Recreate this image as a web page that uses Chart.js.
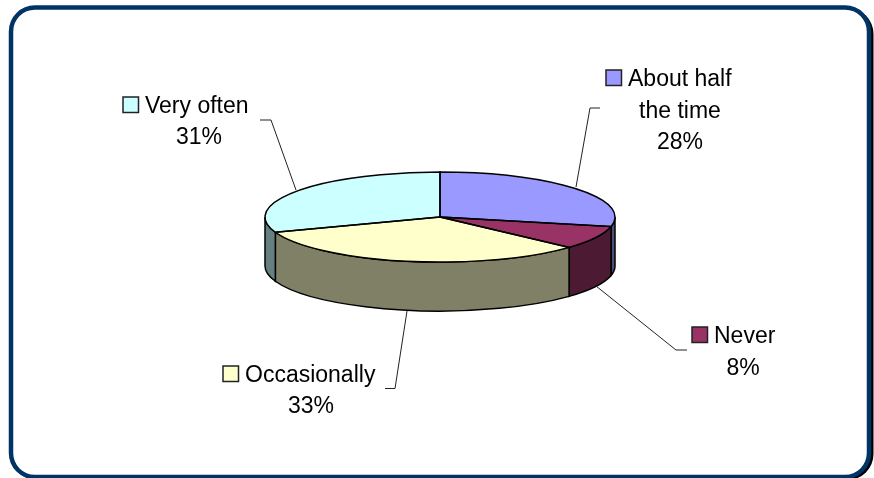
<!DOCTYPE html>
<html>
<head>
<meta charset="utf-8">
<style>
  html, body { margin: 0; background: #fff; }
  canvas { display: block; }
</style>
<script src="https://cdn.jsdelivr.net/npm/chart.js@4"></script>
</head>
<body>
<canvas id="pie" width="874" height="478"></canvas>
<script>
// data, slice sizes, printed labels as shown
const categories = ["About half the time", "Never", "Occasionally", "Very often"];
const shares = [28.4, 8.4, 32.7, 30.5];
const shareLabels = ["28%", "8%", "33%", "31%"];

// colours
const topColors = ["#9999FF", "#993366", "#FFFFCC", "#CCFFFF"];
const sideColors = ["#4D4D80", "#4D1A33", "#808066", "#668080"];

// label layout, same order as categories
const labelLines = [["About half", "the time"], ["Never"], ["Occasionally"], ["Very often"]];
const keyBoxes = [[606, 70], [692, 327], [223, 366], [123, 97]];
const centerX = [680, 743, 311, 199];
const baselines = [86, 343, 381.5, 112.5];
const firstTextX = [628, 714, 245, 145];
const lineGap = 31.7;
const leaders = [
  [[600, 108], [590, 108], [576, 187]],
  [[596, 286], [676, 350], [687, 350]],
  [[407, 311], [395, 388.5], [385, 388.5]],
  [[260, 120], [271, 120], [296, 190]]
];

// where the tilted disc sits on the page
const discX = 440, discY = 217, discRY = 45, discDepth = 49;

function frame(ctx) {
  ctx.save();
  ctx.fillStyle = "#000";
  ctx.beginPath();
  ctx.roundRect(11, 8, 862.5, 472, 26);
  ctx.fill();
  ctx.lineWidth = 4.5;
  ctx.strokeStyle = "#003366";
  ctx.fillStyle = "#fff";
  ctx.beginPath();
  ctx.roundRect(11, 7.5, 858, 469.5, 24);
  ctx.fill();
  ctx.stroke();
  ctx.restore();
}

const tiltedPie = {
  id: "tiltedPie",
  beforeDraw(chart) {
    frame(chart.ctx);
  },
  beforeDatasetsDraw(chart) {
    const ctx = chart.ctx;
    const arcs = chart.getDatasetMeta(0).data;
    const rx = arcs[0].outerRadius;

    // outer wall, only the front half shows
    arcs.forEach((arc, i) => {
      const from = Math.max(arc.startAngle, 0);
      const to = Math.min(arc.endAngle, Math.PI);
      if (to <= from) return;
      ctx.beginPath();
      ctx.ellipse(discX, discY, rx, discRY, 0, from, to);
      ctx.ellipse(discX, discY + discDepth, rx, discRY, 0, to, from, true);
      ctx.closePath();
      ctx.fillStyle = sideColors[i];
      ctx.fill();
      ctx.strokeStyle = "#000";
      ctx.lineWidth = 1.5;
      ctx.stroke();
    });

    ctx.save();
    ctx.translate(discX, discY);
    ctx.scale(1, discRY / rx);
    ctx.translate(-arcs[0].x, -arcs[0].y);
  },
  afterDatasetsDraw(chart) {
    const ctx = chart.ctx;
    ctx.restore();

    const arcs = chart.getDatasetMeta(0).data;
    const rx = arcs[0].outerRadius;

    // outlines on top, stroked without the squash so the width stays even
    arcs.forEach((arc) => {
      ctx.beginPath();
      ctx.moveTo(discX, discY);
      ctx.ellipse(discX, discY, rx, discRY, 0, arc.startAngle, arc.endAngle);
      ctx.closePath();
      ctx.strokeStyle = "#000";
      ctx.lineWidth = 1.5;
      ctx.stroke();
    });

    // leader lines
    ctx.strokeStyle = "#222";
    ctx.lineWidth = 1;
    leaders.forEach((pts) => {
      ctx.beginPath();
      pts.forEach((p, k) => k ? ctx.lineTo(p[0], p[1]) : ctx.moveTo(p[0], p[1]));
      ctx.stroke();
    });

    // labels
    ctx.font = '23px "Liberation Sans"';
    ctx.fillStyle = "#000";
    ctx.textBaseline = "alphabetic";
    categories.forEach((name, i) => {
      const lines = labelLines[i].concat(shareLabels[i]);
      lines.forEach((line, k) => {
        if (k === 0) {
          ctx.textAlign = "left";
          ctx.fillText(line, firstTextX[i], baselines[i]);
        } else {
          ctx.textAlign = "center";
          ctx.fillText(line, centerX[i], baselines[i] + k * lineGap);
        }
      });
      ctx.fillStyle = topColors[i];
      ctx.strokeStyle = "#222";
      ctx.lineWidth = 1.5;
      ctx.fillRect(keyBoxes[i][0], keyBoxes[i][1], 15.5, 15.5);
      ctx.strokeRect(keyBoxes[i][0], keyBoxes[i][1], 15.5, 15.5);
      ctx.fillStyle = "#000";
    });
  }
};

new Chart(document.getElementById("pie"), {
  type: "pie",
  data: {
    labels: categories,
    datasets: [{
      data: shares,
      backgroundColor: topColors,
      borderWidth: 0
    }]
  },
  options: {
    responsive: false,
    animation: false,
    layout: { padding: { left: 265, right: 259, top: 64, bottom: 64 } },
    plugins: { legend: { display: false }, tooltip: { enabled: false } }
  },
  plugins: [tiltedPie]
});
</script>
</body>
</html>
